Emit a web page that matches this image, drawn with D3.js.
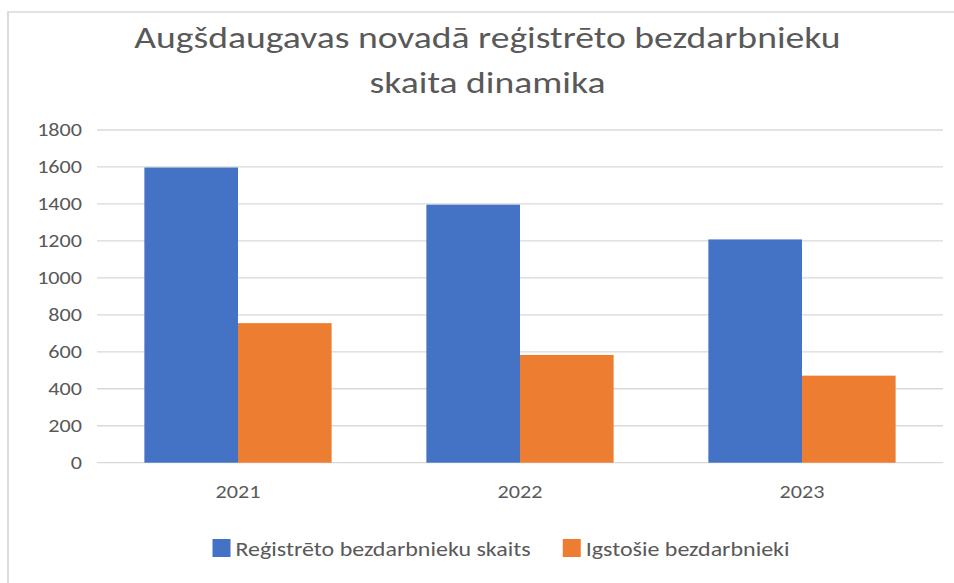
<!DOCTYPE html>
<html lang="lv">
<head>
<meta charset="UTF-8">
<script src="https://d3js.org/d3.v7.min.js"></script>
<style>
  body { margin: 0; background: #fff; }
  svg text { font-family: Carlito, Calibri, Lato, sans-serif; fill: #595959; }
</style>
</head>
<body>
<svg id="chart"></svg>
<script>
  // data
  const years = ['2021', '2022', '2023'];
  const registered = [1597, 1396, 1208];
  const leaving = [755, 583, 471];
  const seriesNames = ['Reģistrēto bezdarbnieku skaits', 'Igstošie bezdarbnieki'];
  const seriesColors = ['#4472C4', '#ED7D31'];
  const yTicks = [0, 200, 400, 600, 800, 1000, 1200, 1400, 1600, 1800];
  const titleLines = ['Augšdaugavas novadā reģistrēto bezdarbnieku', 'skaita dinamika'];

  const W = 954, H = 583;
  // the original picture is stretched sideways, so draw narrower and stretch
  const sx = 1.23;
  const vw = W / sx;

  const svg = d3.select('#chart')
    .attr('width', W).attr('height', H)
    .attr('viewBox', `0 0 ${vw} ${H}`)
    .attr('preserveAspectRatio', 'none');

  svg.append('rect').attr('width', vw).attr('height', H).attr('fill', '#fff');

  // chart border (only top and left show in the crop)
  svg.append('rect')
    .attr('x', 8 / sx).attr('y', 12)
    .attr('width', vw).attr('height', H)
    .attr('fill', 'none').attr('stroke', '#d9d9d9').attr('stroke-width', 1.5);

  const plot = { left: 97 / sx, right: 943 / sx, top: 130, bottom: 462.7 };

  const x = d3.scaleBand().domain(years)
    .range([plot.left, plot.right])
    .paddingInner(0.336).paddingOuter(0.168);
  const xs = d3.scaleBand().domain([0, 1]).range([0, x.bandwidth()]);
  const y = d3.scaleLinear().domain([0, 1800]).range([plot.bottom, plot.top]);

  // title
  svg.append('text')
    .attr('text-anchor', 'middle')
    .style('font-size', '30.6px')
    .selectAll('tspan')
    .data(titleLines).enter()
    .append('tspan')
    .attr('x', (135 + 840) / 2 / sx)
    .attr('y', (d, i) => 48 + i * 45)
    .text(d => d);

  // gridlines
  svg.append('g')
    .selectAll('line')
    .data(yTicks).enter()
    .append('line')
    .attr('x1', plot.left).attr('x2', plot.right)
    .attr('y1', d => y(d)).attr('y2', d => y(d))
    .attr('stroke', '#d9d9d9').attr('stroke-width', 1.3);

  // y axis labels
  const yAxis = svg.append('g')
    .attr('transform', `translate(${82 / sx},0)`)
    .call(d3.axisLeft(y).tickValues(yTicks).tickFormat(d3.format('d')).tickSize(0).tickPadding(0));
  yAxis.select('.domain').remove();
  yAxis.selectAll('text')
    .attr('fill', '#595959')
    .style('font-size', '18px');

  // x axis labels
  const xAxis = svg.append('g')
    .attr('transform', `translate(0,${plot.bottom})`)
    .call(d3.axisBottom(x).tickSize(0).tickPadding(23));
  xAxis.select('.domain').remove();
  xAxis.selectAll('text')
    .attr('fill', '#595959')
    .style('font-size', '18px');

  // bars
  const rows = years.map((yr, i) => ({ year: yr, values: [registered[i], leaving[i]] }));
  svg.append('g')
    .selectAll('g')
    .data(rows).enter()
    .append('g')
    .attr('transform', d => `translate(${x(d.year)},0)`)
    .selectAll('rect')
    .data(d => d.values.map((v, k) => ({ k, v }))).enter()
    .append('rect')
    .attr('x', d => xs(d.k))
    .attr('width', xs.bandwidth())
    .attr('y', d => y(d.v))
    .attr('height', d => y(0) - y(d.v))
    .attr('fill', d => seriesColors[d.k]);

  // legend
  const legend = svg.append('g');
  const box = 18 / sx, gapIn = 5 / sx, gapOut = 32 / sx;
  let cx = 0;
  seriesNames.forEach((name, i) => {
    const item = legend.append('g').attr('transform', `translate(${cx},0)`);
    item.append('rect')
      .attr('x', 0).attr('y', 539)
      .attr('width', box).attr('height', 18)
      .attr('fill', seriesColors[i]);
    const t = item.append('text')
      .attr('x', box + gapIn).attr('y', 556)
      .style('font-size', '19.5px')
      .text(name);
    cx += box + gapIn + t.node().getComputedTextLength() + gapOut;
  });
  const total = cx - gapOut;
  legend.attr('transform', `translate(${(501 / sx) - total / 2},0)`);
</script>
</body>
</html>
